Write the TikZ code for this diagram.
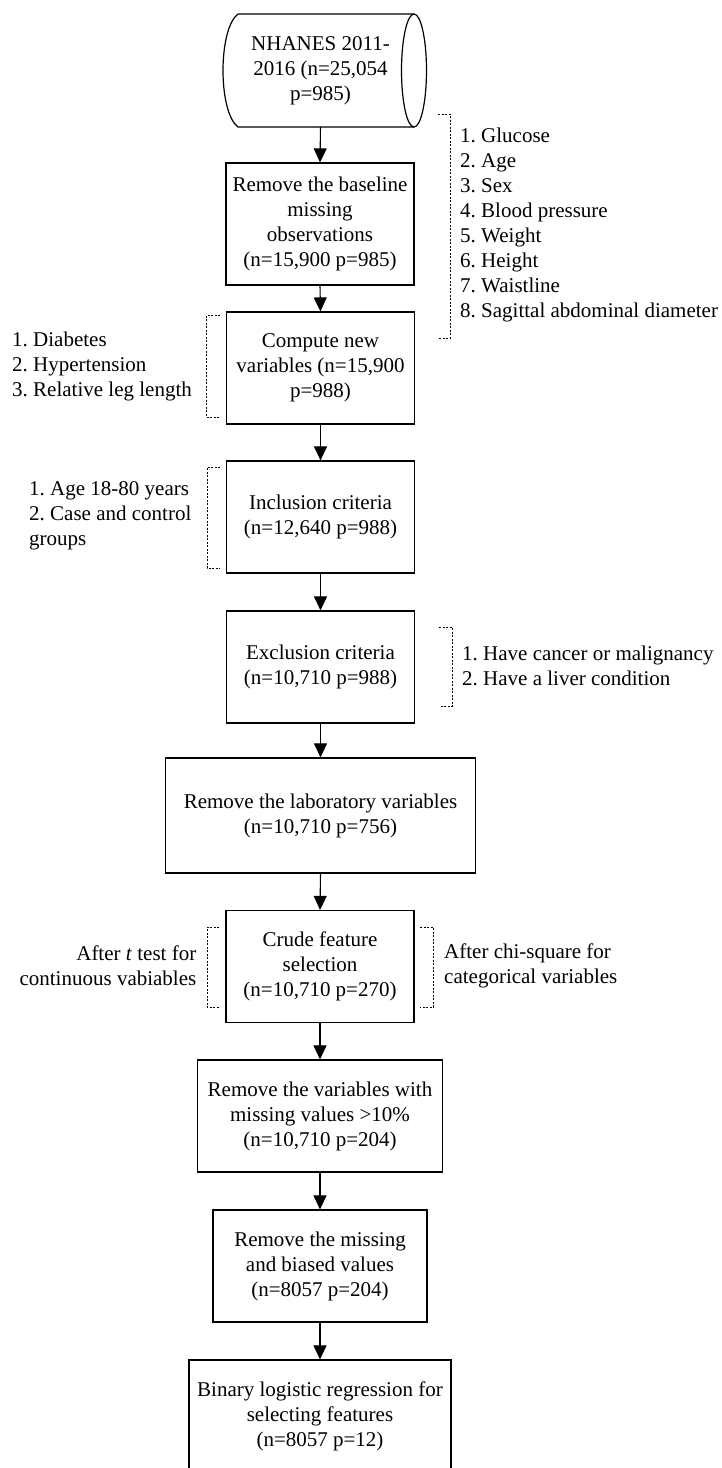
\documentclass[tikz,border=0pt]{standalone}
\usepackage{fontspec}
\setmainfont{Liberation Serif}
\usetikzlibrary{arrows.meta}
\frenchspacing
\newcommand{\tfont}{\fontsize{21pt}{25pt}\selectfont}
\tikzset{
  proc/.style={draw, line width=1.2pt, align=center, inner sep=0pt, font=\tfont},
  note/.style={inner sep=0pt, font=\tfont},
  arr/.style={-{Triangle[length=14pt,width=13pt]}, line width=1.1pt},
  brk/.style={line width=1pt, dash pattern=on 2pt off 1.5pt},
  shapeline/.style={line width=1.2pt}
}
\begin{document}
\begin{tikzpicture}[x=1pt,y=-1pt]
\useasboundingbox (0,0) rectangle (721,1468);
\fill[white] (0,0) rectangle (721,1468);

% source (stored data shape)
\node[note, align=center, minimum width=174pt, minimum height=113pt] (src) at (320.5,70.5)
  {NHANES 2011-\\2016 (n=25,054\\p=985)};
\draw[shapeline] (238,14) -- (414,14) (414,127) -- (238,127)
  .. controls (218,112) and (218,29) .. (238,14);
\draw[shapeline] (414,70.5) ellipse [x radius=12.5pt, y radius=56.5pt];

% process boxes
\node[proc, minimum width=188pt, minimum height=122pt] (b2) at (320,224)
  {Remove the baseline\\missing\\observations\\(n=15,900 p=985)};
\node[proc, minimum width=188pt, minimum height=112pt] (b3) at (320.5,368)
  {Compute new\\variables (n=15,900\\p=988)};
\node[proc, minimum width=188pt, minimum height=112pt] (b4) at (320.5,517)
  {Inclusion criteria\\(n=12,640 p=988)};
\node[proc, minimum width=188pt, minimum height=112pt] (b5) at (320.5,667)
  {Exclusion criteria\\(n=10,710 p=988)};
\node[proc, minimum width=310pt, minimum height=115pt] (b6) at (320.5,815.5)
  {Remove the laboratory variables\\(n=10,710 p=756)};
\node[proc, minimum width=188pt, minimum height=112pt] (b7) at (320,966.5)
  {Crude feature\\selection\\(n=10,710 p=270)};
\node[proc, minimum width=245pt, minimum height=112pt] (b8) at (320,1116)
  {Remove the variables with\\missing values >10\%\\(n=10,710 p=204)};
\node[proc, minimum width=214pt, minimum height=112pt] (b9) at (320,1266)
  {Remove the missing\\and biased values\\(n=8057 p=204)};
\node[proc, minimum width=262pt, minimum height=112pt] (b10) at (320,1416)
  {Binary logistic regression for\\selecting features\\(n=8057 p=12)};

% arrows
\draw[arr] (src.south) -- (b2.north);
\draw[arr] (b2.south) -- (b3.north);
\draw[arr] (b3.south) -- (b4.north);
\draw[arr] (b4.south) -- (b5.north);
\draw[arr] (b5.south) -- (b6.north);
\draw[arr] (b6.south) -- (b7.north);
\draw[arr] (b7.south) -- (b8.north);
\draw[arr] (b8.south) -- (b9.north);
\draw[arr] (b9.south) -- (b10.north);

% annotations
\node[note, align=left, anchor=west] (n1) at (460,225)
  {1. Glucose\\2. Age\\3. Sex\\4. Blood pressure\\5. Weight\\6. Height\\7. Waistline\\8. Sagittal abdominal diameter};
\draw[brk] (438,114) -- (450,114) -- (450,338) -- (438,338);

\node[note, align=left, anchor=west] (n2) at (12,366)
  {1. Diabetes\\2. Hypertension\\3. Relative leg length};
\draw[brk] (220,315) -- (206.5,315) -- (206.5,417) -- (220,417);

\node[note, align=left, anchor=west] (n3) at (29,516)
  {1. Age 18-80 years\\2. Case and control\\groups};
\draw[brk] (220,467) -- (207,467) -- (207,568) -- (220,568);

\node[note, align=left, anchor=west] (n4) at (462,666)
  {1. Have cancer or malignancy\\2. Have a liver condition};
\draw[brk] (439,627) -- (452,627) -- (452,706) -- (439,706);

\node[note, align=right, anchor=east] (n5) at (196.5,966)
  {After \textit{t} test for\\continuous vabiables};
\draw[brk] (219,927) -- (207,927) -- (207,1007) -- (219,1007);

\node[note, align=left, anchor=west] (n6) at (444,966)
  {After chi-square for\\categorical variables};
\draw[brk] (420,927) -- (433,927) -- (433,1007) -- (420,1007);
\end{tikzpicture}
\end{document}
